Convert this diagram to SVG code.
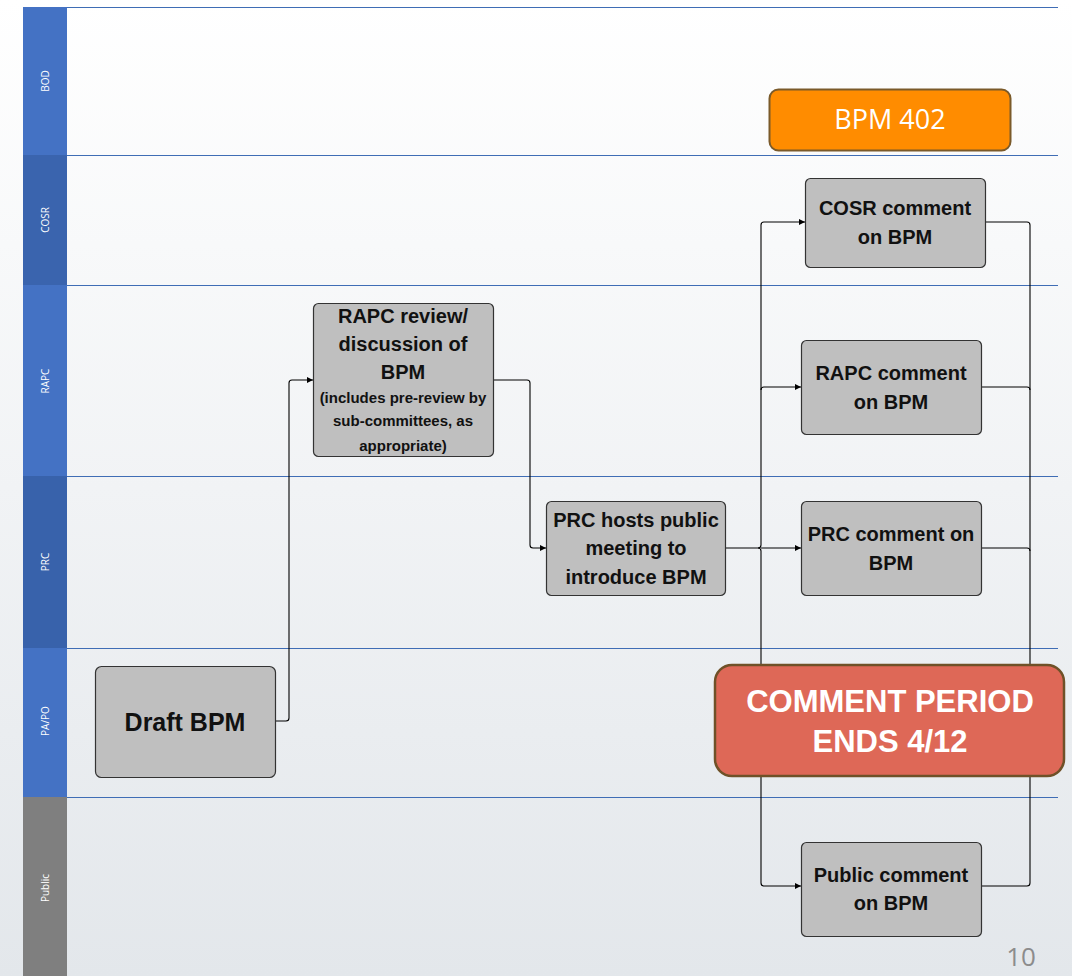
<svg xmlns="http://www.w3.org/2000/svg" width="1072" height="976" viewBox="0 0 1072 976">
<defs>
<linearGradient id="bg" x1="0" y1="0" x2="0" y2="1">
<stop offset="0" stop-color="#FFFFFF"/>
<stop offset="1" stop-color="#E3E7EB"/>
</linearGradient>
<marker id="arr" viewBox="0 0 6 6" refX="6" refY="3" markerWidth="6" markerHeight="6" orient="auto" markerUnits="userSpaceOnUse">
<path d="M0,0 L6,3 L0,6 z" fill="#000"/>
</marker>
<style>
.hdr{stroke:none}
.lane{stroke:#3F6DB5;stroke-width:1.2}
.lbl{font-family:"Open Sans","Liberation Sans",sans-serif;font-size:10px;fill:#FFFFFF;text-anchor:middle}
.box{fill:#BFBFBF;stroke:#333333;stroke-width:1.2}
.t{font-family:"Liberation Sans",Arial,sans-serif;font-weight:bold;font-size:20px;fill:#111;text-anchor:middle}
.ts{font-family:"Liberation Sans",Arial,sans-serif;font-weight:bold;font-size:15px;fill:#111;text-anchor:middle}
.big{font-family:"Liberation Sans",Arial,sans-serif;font-weight:bold;font-size:31px;fill:#FFFFFF;text-anchor:middle}
.c{fill:none;stroke:#000;stroke-width:1.1}
</style>
</defs>
<rect x="0" y="0" width="1072" height="976" fill="url(#bg)"/>
<g id="lanes">
<rect class="hdr" x="23" y="7" width="44" height="148" fill="#4472C4"/>
<rect class="hdr" x="23" y="155" width="44" height="130" fill="#3A64AE"/>
<rect class="hdr" x="23" y="285" width="44" height="191" fill="#4472C4"/>
<rect class="hdr" x="23" y="476" width="44" height="172" fill="#3862AB"/>
<rect class="hdr" x="23" y="648" width="44" height="149" fill="#4472C4"/>
<rect class="hdr" x="23" y="797" width="44" height="179" fill="#7F7F7F"/>
<line class="lane" x1="67" y1="7.5" x2="1058" y2="7.5"/>
<line class="lane" x1="67" y1="155.5" x2="1058" y2="155.5"/>
<line class="lane" x1="67" y1="285.5" x2="1058" y2="285.5"/>
<line class="lane" x1="67" y1="476.5" x2="1058" y2="476.5"/>
<line class="lane" x1="67" y1="648.5" x2="1058" y2="648.5"/>
<line class="lane" x1="67" y1="797.5" x2="1058" y2="797.5"/>
<text class="lbl" transform="translate(49,81) rotate(-90)">BOD</text>
<text class="lbl" transform="translate(49,220) rotate(-90)">COSR</text>
<text class="lbl" transform="translate(49,381) rotate(-90)">RAPC</text>
<text class="lbl" transform="translate(49,562) rotate(-90)">PRC</text>
<text class="lbl" transform="translate(49,721) rotate(-90)">PA/PO</text>
<text class="lbl" transform="translate(49,888) rotate(-90)">Public</text>
</g>
<g id="connectors">
<path class="c" d="M275,721 H286 Q289,721 289,718 V383 Q289,380 292,380 H313" marker-end="url(#arr)"/>
<path class="c" d="M493,380 H527 Q530,380 530,383 V545 Q530,548 533,548 H546" marker-end="url(#arr)"/>
<path class="c" d="M725,548 H758 Q761,548 761,545 V225 Q761,222 764,222 H805" marker-end="url(#arr)"/>
<path class="c" d="M761,390 Q761,387 764,387 H801" marker-end="url(#arr)"/>
<path class="c" d="M761,548 H801" marker-end="url(#arr)"/>
<path class="c" d="M758,548 Q761,548 761,551 V883 Q761,886 764,886 H801" marker-end="url(#arr)"/>
<path class="c" d="M985,222 H1027 Q1030,222 1030,225 V883 Q1030,886 1027,886 H981"/>
<path class="c" d="M981,387 H1027 Q1030,387 1030,390"/>
<path class="c" d="M981,548 H1027 Q1030,548 1030,551"/>
</g>
<g id="bpm402">
<rect x="769.5" y="89.5" width="241" height="61" rx="9" fill="#FF8C00" stroke="#7A5A2A" stroke-width="2"/>
<text x="890" y="129" font-family="Open Sans,'Liberation Sans',sans-serif" font-size="27" fill="#FFFFFF" text-anchor="middle">BPM 402</text>
</g>
<g id="cosr">
<rect class="box" x="805.5" y="178.5" width="180" height="89" rx="5"/>
<text class="t" x="895" y="215">COSR comment</text>
<text class="t" x="895" y="244">on BPM</text>
</g>
<g id="rapc-comment">
<rect class="box" x="801.5" y="340.5" width="180" height="94" rx="5"/>
<text class="t" x="891" y="380">RAPC comment</text>
<text class="t" x="891" y="409">on BPM</text>
</g>
<g id="prc-comment">
<rect class="box" x="801.5" y="501.5" width="180" height="94" rx="5"/>
<text class="t" x="891" y="541">PRC comment on</text>
<text class="t" x="891" y="570">BPM</text>
</g>
<g id="public-comment">
<rect class="box" x="801.5" y="842.5" width="180" height="94" rx="5"/>
<text class="t" x="891" y="882">Public comment</text>
<text class="t" x="891" y="910">on BPM</text>
</g>
<g id="rapc-review">
<rect class="box" x="313.5" y="303.5" width="180" height="153" rx="5"/>
<text class="t" x="403" y="323">RAPC review/</text>
<text class="t" x="403" y="351">discussion of</text>
<text class="t" x="403" y="379">BPM</text>
<text class="ts" x="403" y="403">(includes pre-review by</text>
<text class="ts" x="403" y="426">sub-committees, as</text>
<text class="ts" x="403" y="451">appropriate)</text>
</g>
<g id="prc-hosts">
<rect class="box" x="546.5" y="501.5" width="179" height="94" rx="5"/>
<text class="t" x="636" y="527">PRC hosts public</text>
<text class="t" x="636" y="555">meeting to</text>
<text class="t" x="636" y="584">introduce BPM</text>
</g>
<g id="draft">
<rect class="box" x="95.5" y="666.5" width="180" height="111" rx="6"/>
<text class="t" x="185" y="731" style="font-size:25px">Draft BPM</text>
</g>
<g id="comment-period">
<rect x="715" y="665" width="349" height="111" rx="17" fill="#DE6857" stroke="#6F5128" stroke-width="2.5"/>
<text class="big" x="890" y="712">COMMENT PERIOD</text>
<text class="big" x="890" y="752">ENDS 4/12</text>
</g>
<text x="1021" y="966" font-family="'Open Sans','Liberation Sans',sans-serif" font-size="26" fill="#8C8C8C" text-anchor="middle">10</text>
</svg>
